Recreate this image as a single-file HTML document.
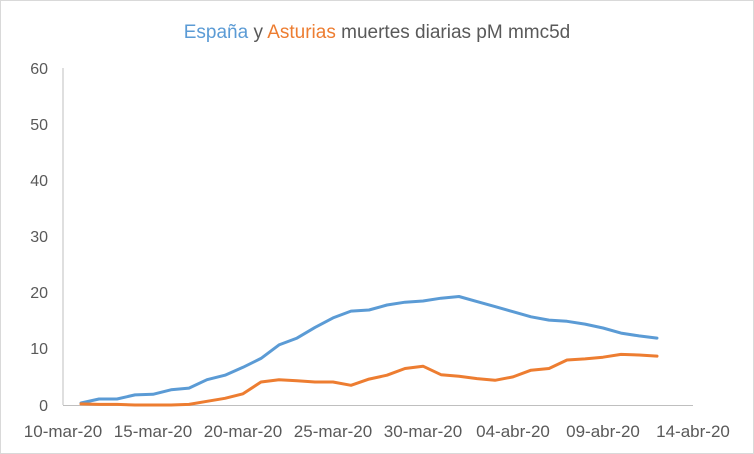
<!DOCTYPE html>
<html><head><meta charset="utf-8"><style>
body{margin:0;background:#fff}
svg{display:block}
text{font-family:"Liberation Sans",sans-serif;fill:#595959;font-size:16px}
</style></head><body>
<svg width="754" height="454" viewBox="0 0 754 454">
<rect x="0.5" y="0.5" width="753" height="453" fill="#fff" stroke="#d9d9d9"/>
<text x="377" y="38" text-anchor="middle" style="font-size:19px"><tspan style="fill:#5B9BD5">España</tspan> y <tspan style="fill:#ED7D31">Asturias</tspan> muertes diarias pM mmc5d</text>
<line x1="63" y1="68" x2="63" y2="405" stroke="#bfbfbf"/>
<line x1="63" y1="405.5" x2="693" y2="405.5" stroke="#bfbfbf"/>
<g text-anchor="end">
<text x="48" y="74">60</text><text x="48" y="130">50</text><text x="48" y="186">40</text>
<text x="48" y="242">30</text><text x="48" y="298">20</text><text x="48" y="354">10</text><text x="48" y="411">0</text>
</g>
<g text-anchor="middle" style="font-size:17px">
<text x="63" y="437" style="font-size:17px">10-mar-20</text><text x="153" y="437" style="font-size:17px">15-mar-20</text><text x="243" y="437" style="font-size:17px">20-mar-20</text>
<text x="333" y="437" style="font-size:17px">25-mar-20</text><text x="423" y="437" style="font-size:17px">30-mar-20</text><text x="513" y="437" style="font-size:17px">04-abr-20</text>
<text x="603" y="437" style="font-size:17px">09-abr-20</text><text x="693" y="437" style="font-size:17px">14-abr-20</text>
</g>
<polyline fill="none" stroke="#5B9BD5" stroke-width="3" stroke-linejoin="round" stroke-linecap="round" points="81,403 99,399 117,399 135,394.9 153,394.3 171,389.8 189,388.1 207,379.7 225,375.2 243,367.3 261,358.4 279,344.9 297,338.1 315,327.4 333,317.9 351,311.1 369,310 387,305 405,302.2 423,301 441,298.2 459,296.5 477,301.6 495,306.6 513,311.7 531,316.8 549,320.1 567,321.3 585,324.1 603,328 621,333.1 639,335.9 657,338.1"/>
<polyline fill="none" stroke="#ED7D31" stroke-width="3" stroke-linejoin="round" stroke-linecap="round" points="81,403.9 99,404.4 117,404.4 135,405 153,405 171,405 189,404.4 207,401.3 225,398.3 243,393.8 261,382 279,379.7 297,380.8 315,382 333,382 351,385.3 369,379.1 387,375.2 405,368.5 423,366.2 441,374.7 459,376.3 477,378.6 495,380.3 513,376.9 531,370.2 549,368.5 567,360 585,358.9 603,357.2 621,354.4 639,355 657,356.1"/>
</svg>
</body></html>
